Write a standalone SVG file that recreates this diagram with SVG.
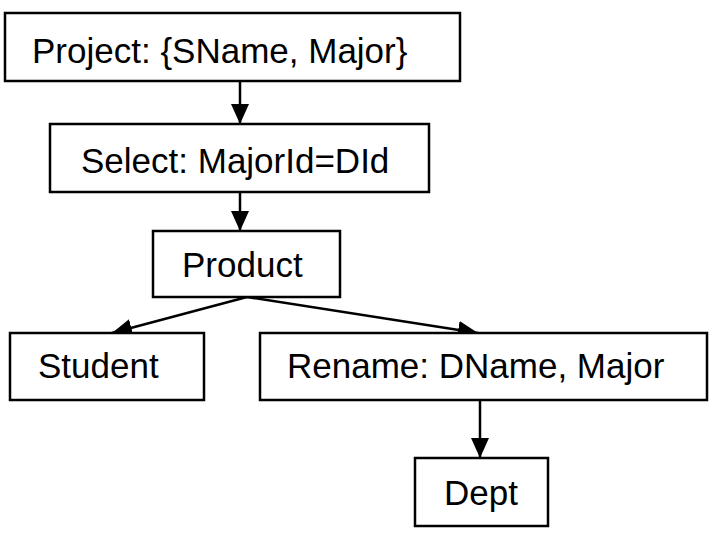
<svg xmlns="http://www.w3.org/2000/svg" width="716" height="538" viewBox="0 0 716 538">
<style>
.box{fill:#fff;stroke:#000;stroke-width:2.5}
.lbl{font-family:"Liberation Sans",Arial,sans-serif;font-size:35px;fill:#000}
.edge{stroke:#000;stroke-width:2.5;fill:none}
</style>
<defs>
<marker id="ah" viewBox="0 0 20 18" refX="20" refY="9" markerWidth="20" markerHeight="18" markerUnits="userSpaceOnUse" orient="auto">
<path d="M0,0 L20,9 L0,18 Z" fill="#000"/>
</marker>
</defs>
<rect width="716" height="538" fill="#fff"/>
<g id="connectors">
<line class="edge" x1="240" y1="81" x2="240" y2="124" marker-end="url(#ah)"/>
<line class="edge" x1="240" y1="192" x2="240" y2="231" marker-end="url(#ah)"/>
<line class="edge" x1="247" y1="297" x2="112" y2="333" marker-end="url(#ah)"/>
<line class="edge" x1="247" y1="297" x2="478" y2="333" marker-end="url(#ah)"/>
<line class="edge" x1="480" y1="399" x2="480" y2="458" marker-end="url(#ah)"/>
</g>
<g id="project">
<rect class="box" x="5" y="13" width="455" height="68"/>
<text class="lbl" x="32" y="63">Project: {SName, Major}</text>
</g>
<g id="select">
<rect class="box" x="50" y="124" width="379" height="68"/>
<text class="lbl" x="81" y="173">Select: MajorId=DId</text>
</g>
<g id="product">
<rect class="box" x="153" y="231" width="187" height="66"/>
<text class="lbl" x="182" y="277">Product</text>
</g>
<g id="student">
<rect class="box" x="10" y="333" width="194" height="67"/>
<text class="lbl" x="38" y="378">Student</text>
</g>
<g id="rename">
<rect class="box" x="260" y="333" width="447" height="67"/>
<text class="lbl" x="287" y="378">Rename: DName, Major</text>
</g>
<g id="dept">
<rect class="box" x="415" y="458" width="133" height="68"/>
<text class="lbl" x="444" y="505">Dept</text>
</g>
</svg>
